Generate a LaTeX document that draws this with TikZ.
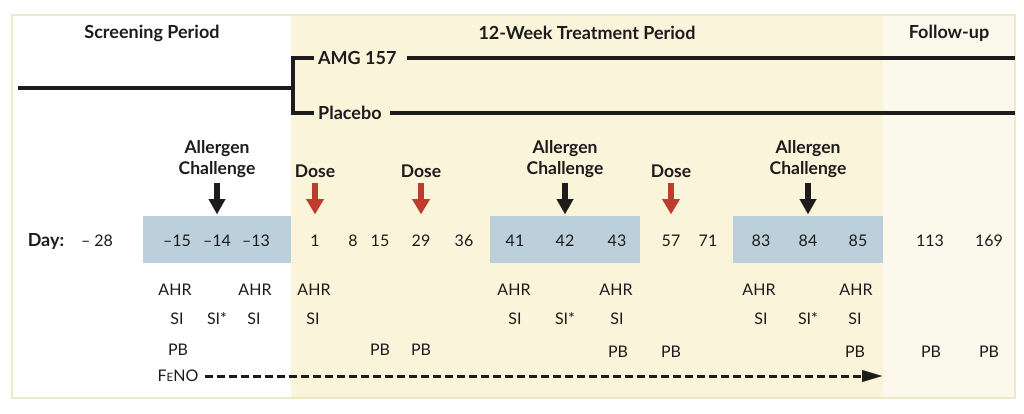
\documentclass[tikz,border=0pt]{standalone}
\usepackage{fontspec}
\setmainfont{Lato}
\usepackage{xcolor}
\usepackage{tikz}
\usetikzlibrary{arrows.meta,positioning}
\definecolor{trialsand}{HTML}{FAF4DA}
\definecolor{trialcream}{HTML}{FBF8EC}
\definecolor{trialframe}{HTML}{EFE8C6}
\definecolor{trialblue}{HTML}{BCD0DC}
\definecolor{trialred}{HTML}{BF3B2E}
\definecolor{trialink}{HTML}{1E1B1C}

\begin{document}
\begin{tikzpicture}[x=1pt, y=-1pt, node distance=3pt]
  \tikzstyle{heading}=[font=\fontsize{18}{21}\selectfont\bfseries, text=trialink]
  \tikzstyle{arm}=[font=\fontsize{18}{21}\selectfont\bfseries, text=trialink, inner sep=4pt]
  \tikzstyle{event}=[font=\fontsize{17.5}{21}\selectfont\bfseries, text=trialink, align=center, inner sep=1pt]
  \tikzstyle{day}=[font=\fontsize{16}{19}\selectfont, text=trialink]
  \tikzstyle{test}=[font=\fontsize{16}{19}\selectfont, text=trialink]
  \tikzstyle{timeline}=[line width=3.3pt, draw=trialink]
  \tikzstyle{dosearrow}=[line width=6.5pt, draw=trialred, fill=trialred, -{Triangle[length=15pt, width=18pt, line width=0.01pt]}]
  \tikzstyle{challengearrow}=[line width=5.5pt, draw=trialink, fill=trialink, -{Triangle[length=15pt, width=17pt, line width=0.01pt]}]
  \tikzstyle{fenoarrow}=[line width=3pt, draw=trialink, dash pattern=on 8pt off 4pt, -{Triangle[length=20pt, width=12pt, line width=0.01pt]}]

  \useasboundingbox (0,0) rectangle (1024,414);
  \fill[white] (12,15) rectangle (291,398);
  \fill[trialsand] (291,15) rectangle (883,398);
  \fill[trialcream] (883,15) rectangle (1015,398);
  \draw[trialframe, line width=2pt] (12,15) rectangle (1015,398);
  \fill[trialblue] (143,216) rectangle (291,263);
  \fill[trialblue] (490,216) rectangle (640,263);
  \fill[trialblue] (733,216) rectangle (883,263);

  \node[heading] (screening) at (152,33) {Screening Period};
  \node[heading] (treatment) at (587,33) {12-Week Treatment Period};
  \node[heading] (followup) at (949,33) {Follow-up};

  \coordinate (enrol) at (18,88);
  \coordinate (split) at (293,88);
  \coordinate (amgend) at (1015,58);
  \coordinate (placeboend) at (1015,113);
  \node[arm, anchor=west] (amg) at (314,58) {AMG 157};
  \node[arm, anchor=west] (placebo) at (314,113) {Placebo};
  \draw[timeline] (enrol) -- (split);
  \draw[timeline] (amg.west) -| (split) |- (placebo.west);
  \draw[timeline] ([xshift=6pt]amg.east) -- (amgend);
  \draw[timeline] ([xshift=4pt]placebo.east) -- (placeboend);

  \coordinate (ch1) at (217,183);
  \coordinate (ch1tip) at (217,214);
  \coordinate (ch2) at (565,183);
  \coordinate (ch2tip) at (565,214);
  \coordinate (ch3) at (808,183);
  \coordinate (ch3tip) at (808,214);
  \coordinate (dose1) at (315,183);
  \coordinate (dose1tip) at (315,214);
  \coordinate (dose2) at (421,183);
  \coordinate (dose2tip) at (421,214);
  \coordinate (dose3) at (671,183);
  \coordinate (dose3tip) at (671,214);
  \draw[challengearrow] (ch1) -- (ch1tip);
  \draw[challengearrow] (ch2) -- (ch2tip);
  \draw[challengearrow] (ch3) -- (ch3tip);
  \draw[dosearrow] (dose1) -- (dose1tip);
  \draw[dosearrow] (dose2) -- (dose2tip);
  \draw[dosearrow] (dose3) -- (dose3tip);
  \node[event, above=4pt of ch1] (ch1label) {Allergen\\Challenge};
  \node[event, above=4pt of ch2] (ch2label) {Allergen\\Challenge};
  \node[event, above=4pt of ch3] (ch3label) {Allergen\\Challenge};
  \node[event, above=4pt of dose1] (dose1label) {Dose};
  \node[event, above=4pt of dose2] (dose2label) {Dose};
  \node[event, above=4pt of dose3] (dose3label) {Dose};

  \node[heading] (daylabel) at (46,241) {Day:};
  \node[day] (dm28) at (97,241) {– 28};
  \node[day] (dm15) at (177,241) {–15};
  \node[day] (dm14) at (217,241) {–14};
  \node[day] (dm13) at (256,241) {–13};
  \node[day] (d1) at (315,241) {1};
  \node[day] (d8) at (353,241) {8};
  \node[day] (d15) at (380,241) {15};
  \node[day] (d29) at (421,241) {29};
  \node[day] (d36) at (464,241) {36};
  \node[day] (d41) at (515,241) {41};
  \node[day] (d42) at (565,241) {42};
  \node[day] (d43) at (617,241) {43};
  \node[day] (d57) at (671,241) {57};
  \node[day] (d71) at (708,241) {71};
  \node[day] (d83) at (761,241) {83};
  \node[day] (d84) at (808,241) {84};
  \node[day] (d85) at (858,241) {85};
  \node[day] (d113) at (930,241) {113};
  \node[day] (d169) at (989,241) {169};

  \node[test] (ahr1) at (175,290) {AHR};
  \node[test] (ahr2) at (255,290) {AHR};
  \node[test] (ahr3) at (314,290) {AHR};
  \node[test] (ahr4) at (514,290) {AHR};
  \node[test] (ahr5) at (616,290) {AHR};
  \node[test] (ahr6) at (759,290) {AHR};
  \node[test] (ahr7) at (856,290) {AHR};
  \node[test] (si1) at (177,319) {SI};
  \node[test] (si2) at (217,319) {SI*};
  \node[test] (si3) at (254,319) {SI};
  \node[test] (si4) at (313,319) {SI};
  \node[test] (si5) at (515,319) {SI};
  \node[test] (si6) at (565,319) {SI*};
  \node[test] (si7) at (617,319) {SI};
  \node[test] (si8) at (761,319) {SI};
  \node[test] (si9) at (808,319) {SI*};
  \node[test] (si10) at (855,319) {SI};
  \node[test] (pb1) at (178,350) {PB};
  \node[test] (pb2) at (380,350) {PB};
  \node[test] (pb3) at (421,350) {PB};
  \node[test] (pb4) at (618,352) {PB};
  \node[test] (pb5) at (671,352) {PB};
  \node[test] (pb6) at (855,352) {PB};
  \node[test] (pb7) at (931,352) {PB};
  \node[test] (pb8) at (989,352) {PB};
  \node[test] (feno) at (178,376) {F{\fontsize{11.5}{12}\selectfont E}NO};
  \coordinate (fenoend) at (882,376);
  \draw[fenoarrow] ([xshift=3pt]feno.east) -- (fenoend);
\end{tikzpicture}
\end{document}
